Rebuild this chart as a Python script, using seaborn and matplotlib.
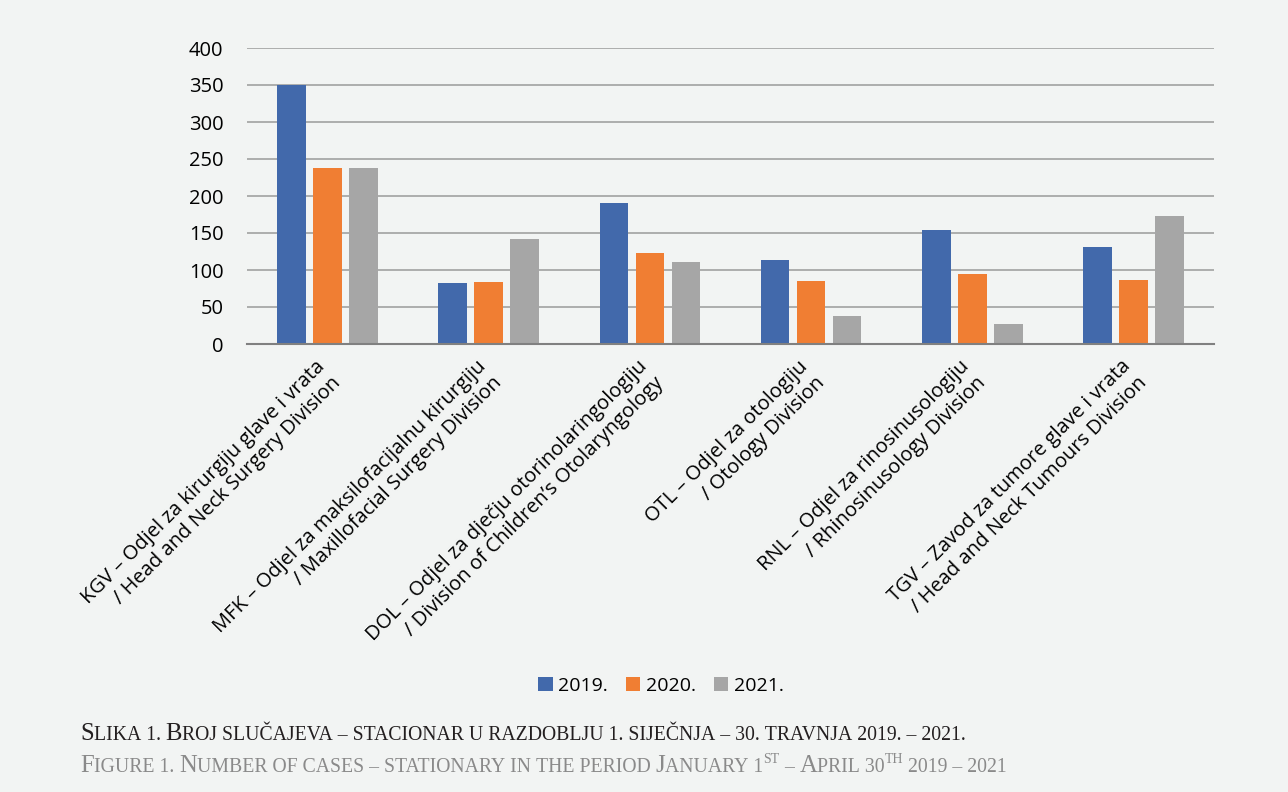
import pandas as pd
import matplotlib
matplotlib.use('Agg')
import matplotlib.pyplot as plt
import seaborn as sns

categories = [
    'KGV – Odjel za kirurgiju glave i vrata\n/ Head and Neck Surgery Division',
    'MFK – Odjel za maksilofacijalnu kirurgiju\n/ Maxillofacial Surgery Division',
    'DOL – Odjel za dječju otorinolaringologiju\n/ Division of Children’s Otolaryngology',
    'OTL – Odjel za otologiju\n/ Otology Division',
    'RNL – Odjel za rinosinusologiju\n/ Rhinosinusology Division',
    'TGV – Zavod za tumore glave i vrata\n/ Head and Neck Tumours Division',
]
years = ['2019.', '2020.', '2021.']
cases_2019 = [350, 83, 191, 114, 154, 131]
cases_2020 = [238, 84, 123, 85, 95, 87]
cases_2021 = [238, 142, 111, 38, 27, 173]
y_ticks = [0, 50, 100, 150, 200, 250, 300, 350, 400]

bar_colors = ['#4269AB', '#F07E33', '#A6A6A6']
bg = '#F2F4F3'


def build_frame():
    """Long table for seaborn: one row per category and year."""
    rows = []
    for year, vals in zip(years, [cases_2019, cases_2020, cases_2021]):
        for cat, v in zip(categories, vals):
            rows.append({'category': cat, 'year': year, 'cases': v})
    return pd.DataFrame(rows)


def small_caps(fig, x, y, parts, big, small, color, family):
    """Fake small caps: capitals at full size, the rest upper-cased and smaller."""
    renderer = fig.canvas.get_renderer()
    W = fig.bbox.width
    H = fig.bbox.height
    cur = x
    for text, sup in parts:
        runs = []
        for ch in text:
            is_big = ch.isupper() and not sup
            if runs and runs[-1][1] == is_big:
                runs[-1][0] += ch
            else:
                runs.append([ch, is_big])
        for run, is_big in runs:
            size = big if is_big else small
            if sup:
                size = small * 0.7
            rise = (small * 0.45 / 72 * fig.dpi / H) if sup else 0
            s = run.upper()
            t = fig.text(cur, y + rise, s.replace(' ', '\u00a0'), fontsize=size,
                         color=color, family=family, va='baseline', ha='left')
            cur += t.get_window_extent(renderer).width / W


df = build_frame()

sns.set_style('white')
plt.rcParams['font.family'] = ['Open Sans', 'DejaVu Sans']
plt.rcParams['text.color'] = 'black'

fig = plt.figure(figsize=(12.88, 7.92), dpi=100)
fig.patch.set_facecolor(bg)
ax = fig.add_axes([247 / 1288, 1 - 344 / 792, (1214 - 247) / 1288, (344 - 48) / 792])
ax.set_facecolor(bg)

sns.barplot(data=df, x='category', y='cases', hue='year', palette=bar_colors,
            width=0.67, gap=0.2, saturation=1, linewidth=0, ax=ax, legend=True)

ax.set_ylim(0, 400)
ax.set_xlim(-0.5, 5.5)
ax.set_yticks(y_ticks)
ax.set_yticklabels([str(v) for v in y_ticks], fontsize=14.5, color='black')
# labels sit a little left of the group centre, as in the original
ax.set_xticks([i - 0.08 for i in range(len(categories))])
ax.set_xticklabels(categories, rotation=45, ha='right', va='top',
                   rotation_mode='anchor', fontsize=14.5, color='black')
ax.tick_params(axis='both', length=0)
ax.tick_params(axis='x', pad=9)
ax.tick_params(axis='y', pad=17)
ax.set_xlabel('')
ax.set_ylabel('')
ax.grid(axis='y', color='#9A9A9A', linewidth=1.1)
ax.set_axisbelow(True)
for side in ['left', 'right', 'top']:
    ax.spines[side].set_visible(False)
ax.spines['bottom'].set_color('#808080')
ax.spines['bottom'].set_linewidth(1.5)
ax.spines['bottom'].set_zorder(3)

handles, labels = ax.get_legend_handles_labels()
ax.get_legend().remove()
fig.legend(handles, labels, loc='center', bbox_to_anchor=(661 / 1288, 1 - 686 / 792),
           ncol=3, frameon=False, fontsize=14, handlelength=0.75, handleheight=0.75,
           handletextpad=0.3, columnspacing=0.9)

serif = ['Liberation Serif', 'DejaVu Serif']
line1 = [('Slika 1. Broj slučajeva – stacionar u razdoblju 1. siječnja – 30. travnja 2019. – 2021.', False)]
line2 = [('Figure 1. Number of cases – stationary in the period January 1', False),
         ('st', True),
         (' – April 30', False),
         ('th', True),
         (' 2019 – 2021', False)]
small_caps(fig, 80 / 1288, 1 - 740 / 792, line1, 17.8, 14.25, '#231F20', serif)
small_caps(fig, 80 / 1288, 1 - 772 / 792, line2, 17.8, 14.25, '#8A8A8A', serif)

fig.savefig('out.png', dpi=100, facecolor=bg)
